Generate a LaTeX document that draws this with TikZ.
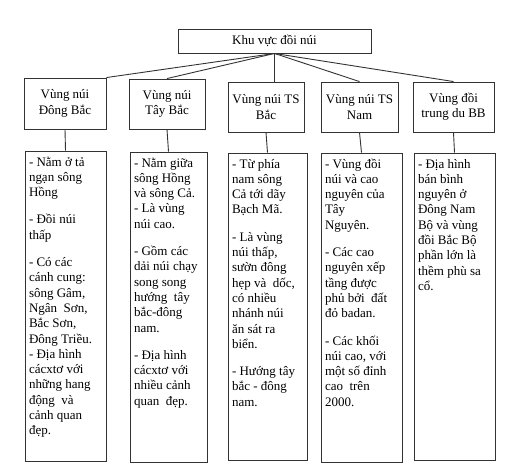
\documentclass[tikz,border=0pt]{standalone}
\usepackage{fontspec}
\setmainfont{Liberation Serif}
\begin{document}
\begin{tikzpicture}[x=1pt, y=-1pt, line width=0.9pt, draw=black!80,
    font=\fontsize{13}{15.3}\selectfont,
    vung/.style={draw, align=center, inner sep=0pt, minimum height=50pt},
    dacdiem/.style={draw, inner sep=4pt}]
         \useasboundingbox (0,0) rectangle (515,472);
         %nodes
         \node[draw, minimum width=193pt, minimum height=24pt] at (274.5,41) (kvdn) {Khu vực đồi núi};
         \node[vung, minimum width=82pt, minimum height=51pt] at (65,103.5) (dongbac) {Vùng núi\\Đông Bắc};
         \node[vung, minimum width=76pt] at (167,104) (taybac) {Vùng núi\\Tây Bắc};
         \node[vung, minimum width=76pt] at (266,107) (tsbac) {Vùng núi TS\\Bắc};
         \node[vung, minimum width=77pt] at (359.5,107) (tsnam) {Vùng núi TS\\Nam};
         \node[vung, minimum width=81pt] at (453.5,107) (trungdu) {Vùng đồi\\trung du BB};
         %details
         \node[dacdiem] at (65.5,306) (ddDongbac) {\parbox[t][302pt][t]{73pt}{\raggedright\rule{0pt}{11pt}%
             - Nằm ở tả\\ngạn sông\\Hồng\\[12pt]- Đồi núi\\thấp\\[12pt]- Có các\\cánh cung:\\sông Gâm,\\Ngân\ \ Sơn,\\Bắc Sơn,\\Đông Triều.\\- Địa hình\\cácxtơ với\\những hang\\động\ \ và\\cảnh quan\\đẹp.}};
         \node[dacdiem] at (168.5,307) (ddTaybac) {\parbox[t][302pt][t]{69pt}{\raggedright\rule{0pt}{11pt}%
             - Nằm giữa\\sông Hồng\\và sông Cả.\\- Là vùng\\núi cao.\\[12pt]- Gồm các\\dải núi chạy\\song song\\hướng\ \ tây\\bắc-đông\\nam.\\[12pt]- Địa hình\\cácxtơ với\\nhiều cảnh\\quan\ \ đẹp.}};
         \node[dacdiem] at (267.5,306.5) (ddTsbac) {\parbox[t][299pt][t]{71pt}{\raggedright\rule{0pt}{11pt}%
             - Từ phía\\nam sông\\Cả tới dãy\\Bạch Mã.\\[12pt]- Là vùng\\núi thấp,\\sườn đông\\hẹp và\ \ dốc,\\có nhiều\\nhánh núi\\ăn sát ra\\biển.\\[12pt]- Hướng tây\\bắc - đông\\nam.}};
         \node[dacdiem] at (361.5,307.5) (ddTsnam) {\parbox[t][301pt][t]{73pt}{\raggedright\rule{0pt}{11pt}%
             - Vùng đồi\\núi và cao\\nguyên của\\Tây\\Nguyên.\\[12pt]- Các cao\\nguyên xếp\\tầng được\\phủ bởi\ \ đất\\đỏ badan.\\[12pt]- Các khối\\núi cao, với\\một số đỉnh\\cao\ \ trên\\2000.}};
         \node[dacdiem] at (454.5,306.5) (ddTrungdu) {\parbox[t][299pt][t]{73pt}{\raggedright\rule{0pt}{11pt}%
             - Địa hình\\bán bình\\nguyên ở\\Đông Nam\\Bộ và vùng\\đồi Bắc Bộ\\phần lớn là\\thềm phù sa\\cổ.}};
         \path
             (kvdn.south) edge (dongbac.north east)
             (kvdn.south) edge (taybac.north)
             (kvdn.south) edge (tsbac.north -| kvdn.south)
             (kvdn.south) edge (tsnam.north)
             (kvdn.south) edge (trungdu.north)
             (dongbac.south) edge (ddDongbac.north)
             (taybac.south) edge (ddTaybac.north)
             (tsbac.south) edge (ddTsbac.north)
             (tsnam.south) edge (ddTsnam.north)
             (trungdu.south) edge (ddTrungdu.north);
    \end{tikzpicture}
\end{document}
